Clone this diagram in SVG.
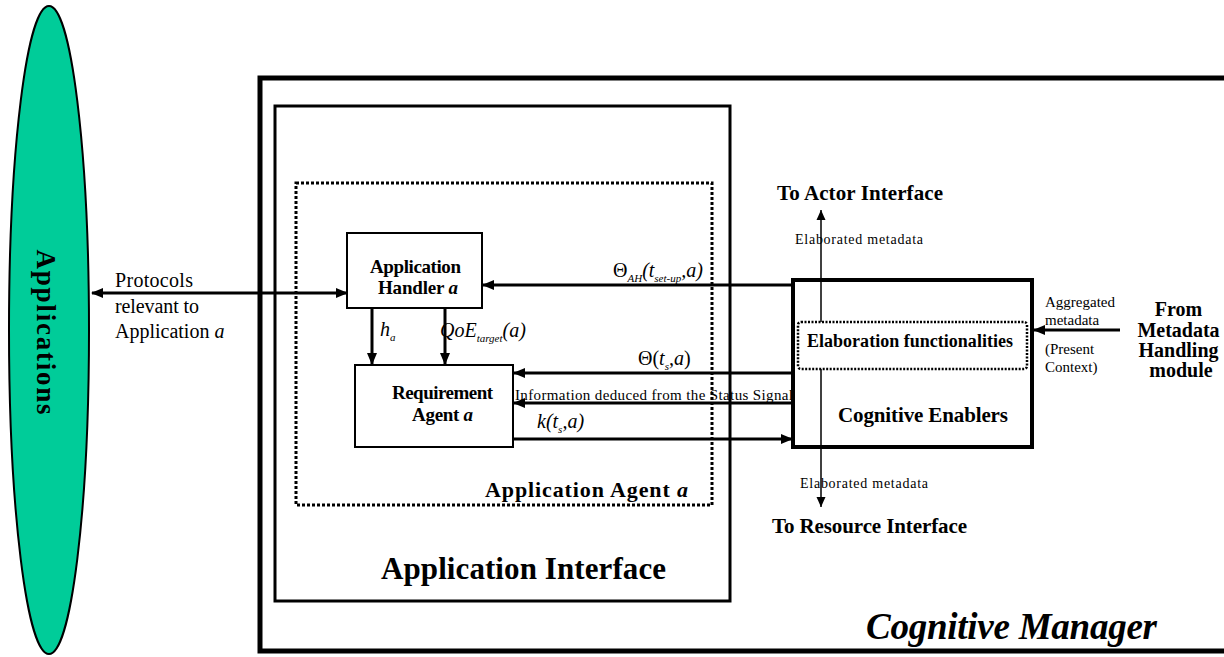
<svg xmlns="http://www.w3.org/2000/svg" width="1224" height="657" viewBox="0 0 1224 657">
  <style>
    text { font-family: "Liberation Serif", "Times New Roman", serif; fill: #000; }
    .b { font-weight: bold; }
    .i { font-style: italic; }
    .box { fill: #fff; stroke: #000; }
    .dots { fill: none; stroke: #000; stroke-width: 3; stroke-dasharray: 3 2; }
    .thick { stroke: #000; stroke-width: 3; fill: none; }
    .thin { stroke: #000; stroke-width: 1.5; fill: none; }
  </style>
  <defs>
    <marker id="ah" markerUnits="userSpaceOnUse" markerWidth="12" markerHeight="10" refX="11" refY="5" orient="auto-start-reverse">
      <path d="M0,0 L12,5 L0,10 z" fill="#000"/>
    </marker>
    <marker id="ahs" markerUnits="userSpaceOnUse" markerWidth="10" markerHeight="10" refX="10" refY="5" orient="auto">
      <path d="M0,0.5 L10,5 L0,9.5 z" fill="#000"/>
    </marker>
  </defs>

  <rect width="1224" height="657" fill="#fff"/>

  <!-- external applications -->
  <g id="applications">
    <ellipse cx="49" cy="330" rx="40" ry="324" fill="#00CC99" stroke="#000" stroke-width="2"/>
    <text class="b" font-size="27" text-anchor="middle" textLength="165" transform="translate(37,332) rotate(90)">Applications</text>
  </g>

  <!-- cognitive manager frame -->
  <g id="cognitive-manager">
    <path d="M1226,78 H260 V651 H1226" fill="none" stroke="#000" stroke-width="5"/>
    <text class="b i" x="866" y="639" font-size="37" textLength="291">Cognitive Manager</text>
  </g>

  <g id="application-interface">
    <rect class="box" x="275" y="106" width="455" height="495" stroke-width="3"/>
    <text class="b" x="381" y="579" font-size="31" textLength="285">Application Interface</text>
  </g>

  <g id="application-agent">
    <rect class="dots" x="296" y="183" width="416" height="322"/>
    <text class="b" x="485" y="497" font-size="22" textLength="203">Application Agent <tspan class="i">a</tspan></text>
  </g>

  <g id="application-handler">
    <rect class="box" x="347" y="233" width="135" height="75" stroke-width="2"/>
    <text class="b" x="370" y="273" font-size="19" textLength="91">Application</text>
    <text class="b" x="378" y="294" font-size="19" textLength="80">Handler <tspan class="i">a</tspan></text>
  </g>

  <g id="requirement-agent">
    <rect class="box" x="355" y="365" width="158" height="82" stroke-width="2"/>
    <text class="b" x="392" y="399" font-size="19" textLength="101">Requirement</text>
    <text class="b" x="412" y="421" font-size="19" textLength="61">Agent <tspan class="i">a</tspan></text>
  </g>

  <g id="cognitive-enablers">
    <rect class="box" x="793" y="280" width="239" height="167" stroke-width="4"/>
    <rect x="798" y="322" width="229" height="47" rx="3" fill="none" stroke="#000" stroke-width="2.5" stroke-dasharray="2 1.5"/>
    <text class="b" x="807" y="347" font-size="18" textLength="206">Elaboration functionalities</text>
    <text class="b" x="838" y="422" font-size="21" textLength="170">Cognitive Enablers</text>
  </g>

  <g id="metadata-handling">
    <text class="b" font-size="20" text-anchor="middle">
      <tspan x="1181" y="316">From</tspan>
      <tspan x="1181" y="337">Metadata</tspan>
      <tspan x="1181" y="357">Handling</tspan>
      <tspan x="1181" y="377">module</tspan>
    </text>
  </g>

  <g id="actor-interface">
    <text class="b" x="777" y="200" font-size="21" textLength="166">To Actor Interface</text>
  </g>

  <g id="resource-interface">
    <text class="b" x="772" y="533" font-size="21" textLength="195">To Resource Interface</text>
  </g>

  <!-- connectors -->
  <g id="connectors">
    <line class="thick" x1="92" y1="293" x2="347" y2="293" marker-start="url(#ah)" marker-end="url(#ah)"/>
    <line class="thick" x1="793" y1="285" x2="483" y2="285" marker-end="url(#ah)"/>
    <line class="thick" x1="372" y1="308" x2="372" y2="364" marker-end="url(#ah)"/>
    <line class="thick" x1="445" y1="308" x2="445" y2="364" marker-end="url(#ah)"/>
    <line class="thick" x1="793" y1="373" x2="514" y2="373" marker-end="url(#ah)"/>
    <line class="thick" x1="793" y1="403" x2="514" y2="403" marker-end="url(#ah)"/>
    <line class="thick" x1="513" y1="439" x2="792" y2="439" marker-end="url(#ah)"/>
    <line class="thin" x1="821" y1="322" x2="821" y2="210" marker-end="url(#ahs)"/>
    <line class="thin" x1="821" y1="369" x2="821" y2="507" marker-end="url(#ahs)"/>
    <line class="thick" x1="1120" y1="330" x2="1034" y2="330" marker-end="url(#ah)"/>
  </g>

  <!-- connector labels -->
  <g id="labels">
    <text font-size="20" x="115" y="287" textLength="78">Protocols</text>
    <text font-size="20" x="115" y="313" textLength="84">relevant to</text>
    <text font-size="20" x="115" y="338">Application  <tspan class="i">a</tspan></text>

    <text font-size="20" x="613" y="277">Θ<tspan class="i" font-size="11" dy="5">AH</tspan><tspan class="i" dy="-5">(t</tspan><tspan class="i" font-size="11" dy="5">set-up</tspan><tspan class="i" dy="-5">,a)</tspan></text>

    <text class="i" font-size="20" x="380" y="336">h<tspan font-size="11" dy="5">a</tspan></text>
    <text class="i" font-size="20" x="440" y="337">QoE<tspan font-size="11" dy="5">target</tspan><tspan dy="-5">(a)</tspan></text>

    <text font-size="20" x="638" y="365">Θ(<tspan class="i">t</tspan><tspan class="i" font-size="11" dy="5">s</tspan><tspan class="i" dy="-5">,a</tspan>)</text>
    <text font-size="15" x="515" y="400" textLength="278">Information deduced from the Status Signal</text>
    <text class="i" font-size="20" x="537" y="428">k(t<tspan font-size="11" dy="5">s</tspan><tspan dy="-5">,a)</tspan></text>

    <text font-size="14" x="795" y="244" textLength="128">Elaborated metadata</text>
    <text font-size="14" x="800" y="488" textLength="128">Elaborated metadata</text>

    <text font-size="15">
      <tspan x="1045" y="307">Aggregated</tspan>
      <tspan x="1045" y="325">metadata</tspan>
      <tspan x="1045" y="354">(Present</tspan>
      <tspan x="1045" y="372">Context)</tspan>
    </text>
  </g>
</svg>
